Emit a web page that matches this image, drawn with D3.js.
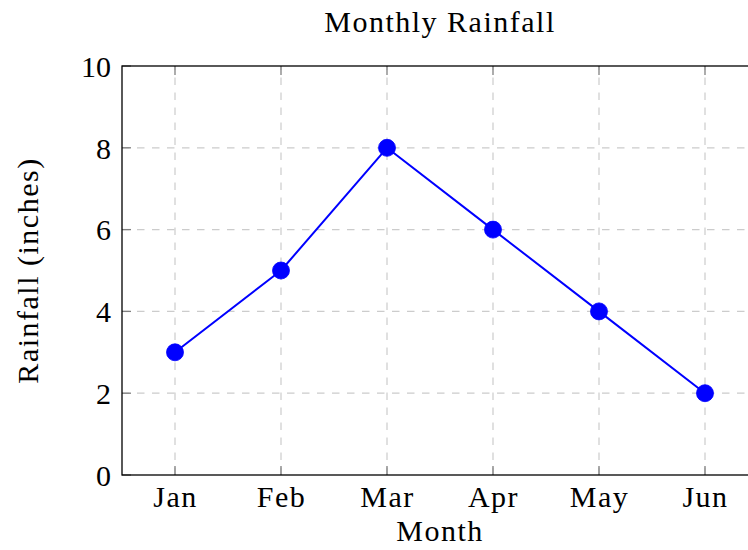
<!DOCTYPE html>
<html>
<head>
<meta charset="utf-8">
<script src="https://cdn.jsdelivr.net/npm/d3@7"></script>
<style>
  html, body { margin: 0; padding: 0; background: #fff; }
  svg { display: block; }
  text { font-family: "Liberation Serif", "Times New Roman", serif; fill: #000; }
</style>
</head>
<body>
<svg id="chart" width="748" height="550"></svg>
<script>
const months = ["Jan", "Feb", "Mar", "Apr", "May", "Jun"];
const rainfall = [3, 5, 8, 6, 4, 2];
const yTicks = [0, 2, 4, 6, 8, 10];
const titleText = "Monthly Rainfall";
const xLabel = "Month";
const yLabel = "Rainfall (inches)";

const W = 748, H = 550;
const plot = { left: 122, right: 758, top: 66, bottom: 475 };

const svg = d3.select("#chart");

const x = d3.scalePoint().domain(months).range([plot.left, plot.right]).padding(0.5);
const y = d3.scaleLinear().domain([0, 10]).range([plot.bottom, plot.top]);

const gridColor = "#cccccc";
const tickColor = "#808080";
const tickLen = 9;
const dash = "7.5,7.5";

// grid lines
const grid = svg.append("g");
grid.selectAll(".vg").data(months).enter().append("line")
  .attr("x1", d => x(d)).attr("x2", d => x(d))
  .attr("y1", plot.bottom).attr("y2", plot.top)
  .attr("stroke", gridColor).attr("stroke-width", 1.2)
  .attr("stroke-dasharray", dash);
grid.selectAll(".hg").data(yTicks.filter(t => t > 0 && t < 10)).enter().append("line")
  .attr("x1", plot.left).attr("x2", plot.right)
  .attr("y1", d => y(d)).attr("y2", d => y(d))
  .attr("stroke", gridColor).attr("stroke-width", 1.2)
  .attr("stroke-dasharray", dash);

// axes via d3 axis generators (labels), ticks drawn inward
const xAxis = svg.append("g").attr("transform", `translate(0,${plot.bottom})`)
  .call(d3.axisBottom(x).tickSize(0).tickPadding(0));
xAxis.select(".domain").remove();
xAxis.selectAll("text")
  .attr("y", 32).attr("dy", 0)
  .style("font-size", "30px")
  .style("letter-spacing", "1.5px")
  .style("font-family", "'Liberation Serif', serif");

const yAxis = svg.append("g").attr("transform", `translate(${plot.left},0)`)
  .call(d3.axisLeft(y).tickValues(yTicks).tickSize(0).tickPadding(0).tickFormat(d3.format("d")));
yAxis.select(".domain").remove();
yAxis.selectAll("text")
  .attr("x", -11).attr("dy", "0.34em")
  .style("font-size", "30px")
  .style("font-family", "'Liberation Serif', serif");

// inward tick marks (bottom & top, left)
const ticks = svg.append("g").attr("stroke", tickColor).attr("stroke-width", 1.3);
months.forEach(m => {
  ticks.append("line").attr("x1", x(m)).attr("x2", x(m)).attr("y1", plot.bottom).attr("y2", plot.bottom - tickLen);
  ticks.append("line").attr("x1", x(m)).attr("x2", x(m)).attr("y1", plot.top).attr("y2", plot.top + tickLen);
});
yTicks.forEach(t => {
  ticks.append("line").attr("x1", plot.left).attr("x2", plot.left + tickLen).attr("y1", y(t)).attr("y2", y(t));
  ticks.append("line").attr("x1", plot.right).attr("x2", plot.right - tickLen).attr("y1", y(t)).attr("y2", y(t));
});

// frame
svg.append("rect")
  .attr("x", plot.left).attr("y", plot.top)
  .attr("width", plot.right - plot.left).attr("height", plot.bottom - plot.top)
  .attr("fill", "none").attr("stroke", "#000").attr("stroke-width", 1.3);

// data line
const pts = months.map((m, i) => ({ m, v: rainfall[i] }));
svg.append("path").datum(pts)
  .attr("fill", "none").attr("stroke", "#0000ff").attr("stroke-width", 2)
  .attr("stroke-linejoin", "round")
  .attr("d", d3.line().x(d => x(d.m)).y(d => y(d.v)));

svg.selectAll(".pt").data(pts).enter().append("circle")
  .attr("cx", d => x(d.m)).attr("cy", d => y(d.v)).attr("r", 8.5)
  .attr("fill", "#0000ff").attr("stroke", "#0000ff").attr("stroke-width", 0.8);

// title and axis labels
svg.append("text").attr("x", (plot.left + plot.right) / 2).attr("y", 32)
  .attr("text-anchor", "middle").style("font-size", "30px").style("letter-spacing", "1.5px")
  .text(titleText);
svg.append("text").attr("x", (plot.left + plot.right) / 2).attr("y", 541)
  .attr("text-anchor", "middle").style("font-size", "30px").style("letter-spacing", "1.5px")
  .text(xLabel);
svg.append("text")
  .attr("transform", `translate(38,${(plot.top + plot.bottom) / 2}) rotate(-90)`)
  .attr("text-anchor", "middle").style("font-size", "30px").style("letter-spacing", "1.5px")
  .text(yLabel);
</script>
</body>
</html>
